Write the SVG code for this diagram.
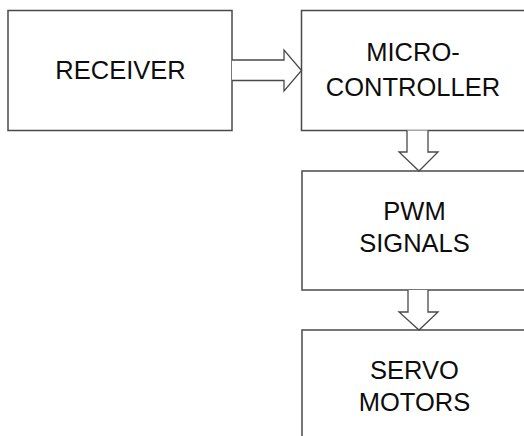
<svg xmlns="http://www.w3.org/2000/svg" width="524" height="436" viewBox="0 0 524 436">
<style>
.box{fill:#fff;stroke:#4a4a4a;stroke-width:1.5}
.arr{fill:#fff;stroke:#4a4a4a;stroke-width:1.3;stroke-linejoin:miter}
.t{font-family:"Liberation Sans",Arial,sans-serif;font-size:25.5px;fill:#0d0d0d;text-anchor:middle}
</style>
<rect width="524" height="436" fill="#fff"/>
<g id="receiver">
<rect class="box" x="8" y="10.5" width="224" height="120"/>
<text class="t" x="120.5" y="79">RECEIVER</text>
</g>
<g id="microcontroller">
<rect class="box" x="301.5" y="10.5" width="240" height="120"/>
<text class="t" x="413" y="61">MICRO-</text>
<text class="t" x="413" y="96">CONTROLLER</text>
</g>
<g id="pwm">
<rect class="box" x="302" y="171" width="240" height="119"/>
<text class="t" x="414.5" y="220">PWM</text>
<text class="t" x="414.5" y="252">SIGNALS</text>
</g>
<g id="servo">
<rect class="box" x="302" y="330" width="240" height="130"/>
<text class="t" x="414.5" y="379">SERVO</text>
<text class="t" x="414.5" y="411">MOTORS</text>
</g>
<g id="connectors">
<path class="arr" d="M232,60 H284 V50 L301.5,70.5 L284,91 V80.5 H232"/>
<path class="arr" d="M407,130.5 V152 H399 L419,171 L438,152 H428 V130.5"/>
<path class="arr" d="M408,290 V312 H399 L419,330 L438,312 H428 V290"/>
</g>
</svg>
